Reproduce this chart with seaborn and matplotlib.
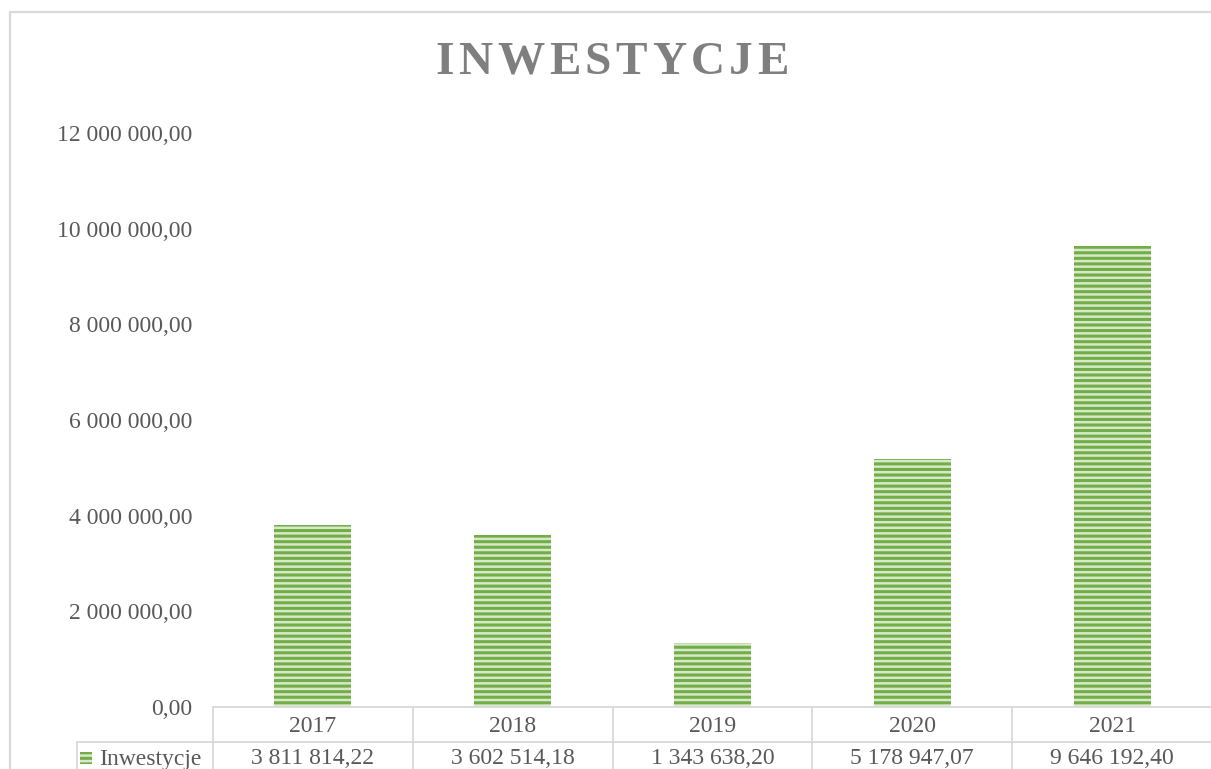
import matplotlib
matplotlib.use("Agg")
import matplotlib.pyplot as plt
import matplotlib.transforms as mtransforms
from matplotlib.lines import Line2D
from matplotlib.patches import Rectangle
from matplotlib.ticker import FuncFormatter
import seaborn as sns
import pandas as pd

# ---- data ----
years = ["2017", "2018", "2019", "2020", "2021"]
values = [3811814.22, 3602514.18, 1343638.20, 5178947.07, 9646192.40]
series_name = "Inwestycje"
title = "INWESTYCJE"
y_ticks = [0, 2000000, 4000000, 6000000, 8000000, 10000000, 12000000]

def pl_fmt(v):
    s = f"{v:,.2f}"
    return s.replace(",", " ").replace(".", ",")

sns.set_theme(style="white")
plt.rcParams["font.family"] = ["Liberation Serif", "DejaVu Serif"]
plt.rcParams["hatch.linewidth"] = 2.2

TXT = "#595959"
GRID = "#d9d9d9"
FACE = "#d6e9c8"
HATCH = "#72ad48"

W, H = 1211, 769
fig = plt.figure(figsize=(W / 100, H / 100), dpi=100)
ax = fig.add_axes([213 / W, 1 - 707 / H, (1212 - 213) / W, (707 - 133) / H])

df = pd.DataFrame({"year": years, "value": values})
sns.barplot(data=df, x="year", y="value", color=FACE, width=0.385, ax=ax,
            saturation=1)
for p in ax.patches:
    p.set_facecolor(FACE)
    p.set_edgecolor(HATCH)
    p.set_linewidth(0)
    p.set_hatch("---")

ax.set_xlim(-0.5, len(years) - 0.5)
ax.set_ylim(0, 12000000)
ax.set_yticks(y_ticks)
ax.yaxis.set_major_formatter(FuncFormatter(lambda v, _: pl_fmt(v)))
ax.tick_params(axis="y", labelsize=17, labelcolor=TXT, length=0, pad=15)
ax.set_xticks([])
ax.set_xlabel("")
ax.set_ylabel("")
for s in ax.spines.values():
    s.set_visible(False)
ax.grid(False)

# ---- data table below axis ----
tr = mtransforms.blended_transform_factory(ax.transData, ax.transAxes)
axh = 707 - 133
row = 35 / axh
lw = 1.3
n = len(years)
colw = (1212 - 213) / n
legend_x = -0.5 - (213 - 77) / colw
# horizontal lines
ax.add_line(Line2D([-0.5, n - 0.5], [0, 0], transform=tr, color=GRID, lw=lw, clip_on=False))
ax.add_line(Line2D([legend_x, n - 0.5], [-row, -row], transform=tr, color=GRID, lw=lw, clip_on=False))
# vertical lines
for i in range(n):
    ax.add_line(Line2D([i - 0.5, i - 0.5], [0, -0.2], transform=tr, color=GRID, lw=lw, clip_on=False))
ax.add_line(Line2D([legend_x, legend_x], [-row, -0.2], transform=tr, color=GRID, lw=lw, clip_on=False))

y_year = -(19 / axh)
y_val = -(52 / axh)
for i, (yr, v) in enumerate(zip(years, values)):
    ax.text(i, y_year, yr, transform=tr, ha="center", va="center", fontsize=17,
            color=TXT, clip_on=False)
    ax.text(i, y_val, pl_fmt(v), transform=tr, ha="center", va="center",
            fontsize=17, color=TXT, clip_on=False)

# legend key in table
key = Rectangle((legend_x + 3 / colw, -(57 / axh)), 12 / colw, 12 / axh,
                transform=tr, facecolor=FACE, edgecolor=HATCH, lw=0, hatch="---",
                clip_on=False)
ax.add_patch(key)
ax.text(legend_x + 22 / colw, y_val, series_name, transform=tr,
        ha="left", va="center", fontsize=17, color=TXT, clip_on=False)

# ---- outer chart border ----
fig.add_artist(Rectangle((10 / W, -0.2), 1.5, 1.2 - 12 / H, transform=fig.transFigure,
                         fill=False, edgecolor=GRID, lw=1.6))

# ---- title with letter spacing ----
fig.canvas.draw()
r = fig.canvas.get_renderer()
tprops = dict(fontsize=34, fontweight="bold", color="#7f7f7f", va="center", ha="left")
widths = []
for ch in title:
    t = fig.text(0, 0, ch, **tprops)
    widths.append(t.get_window_extent(r).width)
    t.remove()
gap = 4.5
total = sum(widths) + gap * (len(title) - 1)
x = 612 - total / 2
for ch, w in zip(title, widths):
    fig.text(x / W, 1 - 63 / H, ch, **tprops)
    x += w + gap

fig.savefig("out.png", dpi=100)
